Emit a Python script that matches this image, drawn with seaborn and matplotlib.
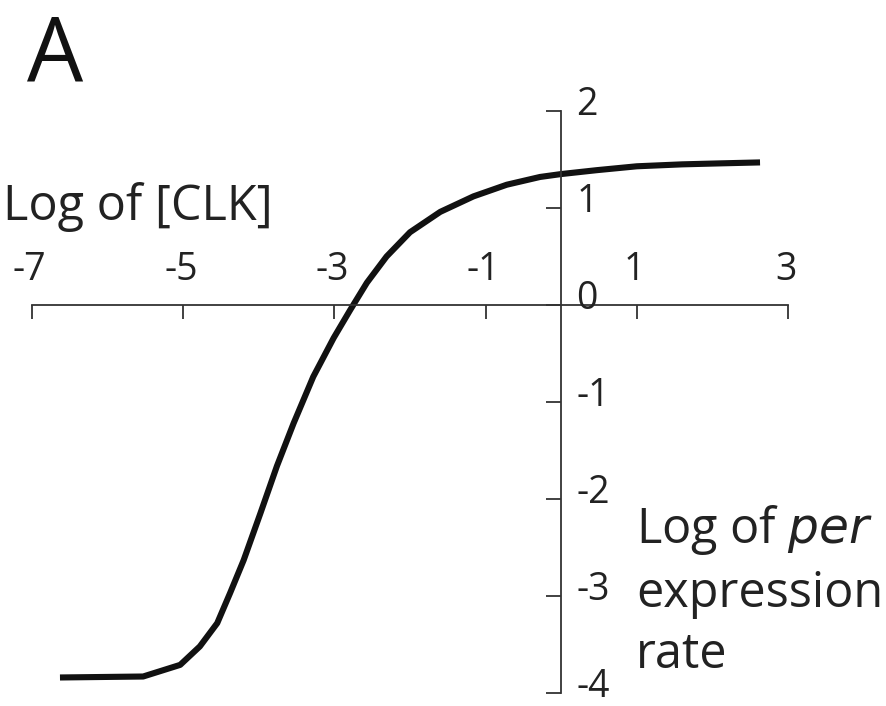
import matplotlib
matplotlib.use("Agg")
import matplotlib.pyplot as plt
from matplotlib import font_manager
import seaborn as sns
import pandas as pd

# ---- data ----
log_per = [-6.63, -5.53, -5.04, -4.78, -4.55, -4.38, -4.20, -3.98, -3.76, -3.54,
           -3.28, -3.01, -2.79, -2.57, -2.31, -2.0, -1.60, -1.16, -0.72, -0.28,
           0.0, 0.47, 1.0, 1.6, 2.1, 2.63]
log_clk = [-3.84, -3.83, -3.71, -3.52, -3.28, -2.97, -2.63, -2.15, -1.66, -1.22,
           -0.74, -0.34, -0.05, 0.23, 0.50, 0.75, 0.96, 1.12, 1.24, 1.32,
           1.35, 1.39, 1.43, 1.45, 1.46, 1.47]
x_ticks = [-7, -5, -3, -1, 1, 3]
y_ticks = [-4, -3, -2, -1, 0, 1, 2]
x_label = "Log of [CLK]"
panel_label = "A"

sns.set_theme(style="white")
avail = {f.name for f in font_manager.fontManager.ttflist}
fam = "DejaVu Sans"
for cand in ["Liberation Sans Narrow", "DejaVu Sans Condensed", "Open Sans", "Lato"]:
    if cand in avail:
        fam = cand
        break
plt.rcParams["font.family"] = [fam, "DejaVu Sans"]

fig = plt.figure(figsize=(8.86, 7.06), dpi=100)
W, H = 886, 706
x0, x1 = 32, 788
yt, yb = 111, 693
ax = fig.add_axes([x0 / W, (H - yb) / H, (x1 - x0) / W, (yb - yt) / H])
ax.set_facecolor("none")

df = pd.DataFrame({"per": log_per, "clk": log_clk})
sns.lineplot(data=df, x="per", y="clk", ax=ax, color="#111111", lw=4.4,
             sort=False, estimator=None, clip_on=False,
             solid_capstyle="butt", solid_joinstyle="round")

ax.set_xlim(-7, 3)
ax.set_ylim(-4, 2)
for s in ["top", "right"]:
    ax.spines[s].set_visible(False)
ax.spines["left"].set_position(("data", 0))
ax.spines["bottom"].set_position(("data", 0))
line_col = "#333333"
for s in ["left", "bottom"]:
    ax.spines[s].set_color(line_col)
    ax.spines[s].set_linewidth(1.3)

ax.set_xticks(x_ticks)
ax.set_yticks(y_ticks)
ax.tick_params(axis="x", direction="out", length=10, width=1.3, color=line_col,
               labelbottom=False, bottom=True)
ax.tick_params(axis="y", direction="out", length=11, width=1.3, color=line_col,
               labelleft=False, left=True)
ax.set_xlabel("")
ax.set_ylabel("")

fs = 27
txt_col = "#222222"
for v in x_ticks:
    ax.text(v - 0.03, 0.36, f"{v}", ha="center", va="center",
            fontsize=fs, color=txt_col)
for v in y_ticks:
    ax.text(0.2, v + 0.06, f"{v}", ha="left", va="center", fontsize=fs,
            color=txt_col)

big = 35
fig.text(3 / W, 1 - 207 / H, x_label, fontsize=big, ha="left", va="center",
         color=txt_col)
fig.text(636 / W, 1 - 530 / H, "Log of $\\it{per}$", fontsize=big, ha="left",
         va="center", color=txt_col)
fig.text(636 / W, 1 - 594 / H, "expression", fontsize=big, ha="left",
         va="center", color=txt_col)
fig.text(636 / W, 1 - 655 / H, "rate", fontsize=big, ha="left",
         va="center", color=txt_col)
fig.text(27 / W, 1 - 57 / H, panel_label, fontsize=64, ha="left", va="center",
         color="#111111")

fig.savefig("out.png", dpi=100)
